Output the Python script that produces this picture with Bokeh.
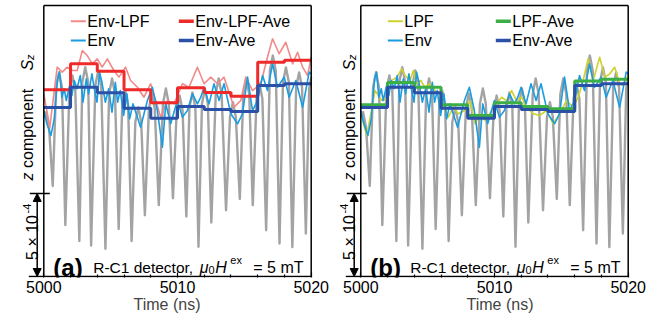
import math
from bokeh.plotting import figure
from bokeh.layouts import row
from bokeh.models import FixedTicker, Range1d, Arrow, NormalHead
from bokeh.core.properties import value
from bokeh.embed import file_html
from bokeh.resources import INLINE

FONT = "Liberation Sans"

# ---------------- data: time (ns) and S_z (units of 1e-4, relative to frame bottom) --------------
gray_t = [5000.00, 5000.17, 5000.39, 5000.67,
          5000.92, 5001.14, 5001.36, 5001.61,
          5001.915, 5002.135, 5002.355, 5002.66,
          5002.88, 5003.10, 5003.32, 5003.54,
          5003.855, 5004.075, 5004.295, 5004.61,
          5004.885, 5005.105, 5005.325, 5005.60,
          5005.865, 5006.085, 5006.305, 5006.57,
          5006.845, 5007.065, 5007.285, 5007.56,
          5007.86, 5008.08, 5008.30, 5008.60,
          5008.91, 5009.13, 5009.35, 5009.66,
          5009.94, 5010.16, 5010.38, 5010.66,
          5010.895, 5011.115, 5011.335, 5011.57,
          5011.83, 5012.05, 5012.27, 5012.53,
          5012.86, 5013.08, 5013.30, 5013.63,
          5013.925, 5014.145, 5014.365, 5014.66,
          5014.925, 5015.145, 5015.365, 5015.63,
          5015.91, 5016.13, 5016.35, 5016.63,
          5016.91, 5017.13, 5017.35, 5017.63,
          5017.89, 5018.11, 5018.33, 5018.59,
          5018.875, 5019.095, 5019.315, 5019.60,
          5019.85, 5020.00]
gray_v = [9.6, 9.9, 9.0, 5.45,
          11.4, 12.31, 11.4, 3.10,
          11.2, 12.11, 11.2, 2.14,
          11.7, 12.61, 11.7, 1.87,
          11.5, 12.41, 11.5, 1.67,
          11.0, 11.93, 11.0, 2.86,
          10.3, 11.20, 10.3, 2.14,
          9.3, 10.18, 9.3, 3.69,
          10.1, 11.02, 10.1, 4.30,
          10.4, 11.33, 10.4, 4.71,
          10.0, 10.90, 10.0, 3.61,
          10.2, 11.08, 10.2, 1.79,
          10.4, 11.33, 10.4, 3.25,
          11.0, 11.93, 11.0, 3.99,
          9.6, 10.50, 9.6, 4.67,
          11.0, 11.93, 11.0, 4.30,
          10.7, 11.63, 10.7, 2.79,
          12.4, 13.31, 12.4, 1.99,
          11.7, 12.59, 11.7, 1.77,
          11.4, 12.29, 11.4, 2.59,
          11.3, 12.0]

env_t = [5000.00, 5000.23, 5000.53, 5000.78, 5001.03, 5001.18, 5001.35, 5001.53, 5001.68, 5001.93,
         5002.10, 5002.28, 5002.48, 5002.73, 5002.93, 5003.18, 5003.35, 5003.60, 5003.78, 5003.98,
         5004.17, 5004.35, 5004.60, 5004.85, 5005.10, 5005.35, 5005.52, 5005.72, 5005.97, 5006.22,
         5006.42, 5006.67, 5007.24, 5007.75, 5008.12, 5008.49, 5008.87, 5009.12, 5009.49, 5009.99,
         5010.37, 5010.74, 5011.12, 5011.49, 5011.74, 5011.99, 5012.36, 5012.73, 5013.11, 5013.48,
         5013.99, 5014.49, 5014.86, 5015.24, 5015.61, 5015.99, 5016.36, 5016.73, 5017.11, 5017.48,
         5017.98, 5018.35, 5018.85, 5019.36, 5019.85, 5020.00]
env_v = [10.00, 9.20, 8.49, 9.50, 11.91, 12.31, 10.80, 11.31, 10.60, 11.51,
         10.90, 11.81, 11.31, 12.11, 10.50, 11.91, 11.00, 12.21, 11.31, 10.50,
         12.31, 11.70, 10.50, 11.31, 9.90, 11.70, 10.50, 11.20, 9.70, 11.00,
         9.50, 10.40, 8.99, 10.60, 11.40, 10.00, 7.79, 10.40, 9.20, 10.60,
         9.60, 10.00, 11.00, 10.40, 10.80, 11.40, 10.40, 11.61, 10.60, 11.61,
         9.80, 9.20, 9.80, 12.01, 10.00, 10.60, 12.11, 11.20, 12.81, 11.40,
         12.01, 10.80, 11.81, 10.20, 12.31, 12.20]

env_lpf_t = [5000.00, 5000.45, 5001.00, 5001.38, 5001.75, 5002.13, 5002.50, 5002.88, 5003.25, 5003.63,
             5004.00, 5004.37, 5004.75, 5005.24, 5005.62, 5006.12, 5006.49, 5007.00, 5007.49, 5007.99,
             5008.37, 5008.74, 5009.24, 5009.74, 5010.37, 5010.86, 5011.49, 5011.99, 5012.49, 5012.99,
             5013.48, 5014.23, 5014.73, 5015.11, 5015.61, 5016.23, 5016.73, 5017.11, 5017.60, 5018.10,
             5018.61, 5018.98, 5019.36, 5019.73, 5020.00]
env_lpf_v = [11.00, 8.99, 12.61, 12.31, 12.61, 12.41, 12.41, 13.61, 13.31, 12.81,
             13.11, 12.61, 13.11, 12.41, 12.01, 12.61, 11.81, 11.40, 10.80, 11.61,
             10.60, 9.60, 10.60, 10.40, 11.61, 11.40, 12.61, 11.61, 12.01, 11.61,
             12.01, 10.20, 10.60, 12.01, 11.20, 11.61, 13.21, 14.32, 13.42, 14.11,
             12.81, 13.51, 12.61, 12.11, 13.21]

lpf_t = [5000.00, 5000.45, 5001.07, 5001.57, 5001.94, 5002.32, 5002.69, 5003.06, 5003.31, 5003.68,
         5003.93, 5004.18, 5004.48, 5004.80, 5005.18, 5005.55, 5005.92, 5006.17, 5006.55, 5006.92,
         5007.29, 5007.79, 5008.17, 5008.54, 5008.91, 5009.29, 5009.66, 5010.16, 5010.53, 5010.90,
         5011.28, 5011.65, 5012.02, 5012.40, 5012.90, 5013.39, 5013.89, 5014.39, 5014.89, 5015.38,
         5015.88, 5016.26, 5016.63, 5017.00, 5017.38, 5017.87, 5018.25, 5018.62, 5018.99, 5019.37,
         5019.62, 5020.00]
lpf_v = [9.80, 8.49, 11.20, 10.60, 10.70, 11.81, 12.01, 12.51, 12.11, 11.81,
         12.41, 11.61, 11.81, 11.40, 11.61, 11.20, 11.00, 10.20, 9.60, 10.20,
         9.80, 10.00, 10.60, 9.20, 9.80, 9.40, 9.80, 10.40, 10.80, 10.60,
         11.20, 10.60, 10.80, 10.20, 9.80, 9.70, 10.00, 9.20, 9.80, 10.60,
         10.20, 10.80, 11.81, 13.11, 11.81, 13.21, 12.01, 12.21, 12.61, 11.61,
         11.51, 12.11]

ave_t = [5000, 5002, 5004, 5006, 5008, 5010, 5012, 5014, 5016, 5018, 5020]
env_lpf_ave = [11.25, 12.81, 12.37, 11.25, 10.46, 11.37, 11.08, 10.86, 12.91, 13.03]
env_ave = [10.18, 11.40, 11.07, 10.14, 9.54, 10.24, 10.06, 9.94, 11.51, 11.61]
lpf_ave = [10.34, 11.69, 11.40, 10.34, 9.70, 10.46, 10.24, 10.10, 11.77, 11.89]

x_major = [5000, 5010, 5020]
x_minor = [5002, 5004, 5006, 5008, 5012, 5014, 5016, 5018]
scale_bar = 5.0  # 5 x 10^-4

# ---------------- styles ----------------
C_GRAY = "#a3a3a3"
C_ENV = "#1b9ce0"
C_ENVLPF = "#f28a8a"
C_ENVLPFAVE = "#ee2a2a"
C_ENVAVE = "#2a50a8"
C_LPF = "#cfd22c"
C_LPFAVE = "#3bae45"

W, H = 333, 322
PPN = 13.37        # px per ns
PPU = 16.6         # px per 1e-4
FRAME_BOTTOM = 277 # px from top of the figure
TOP_V = (FRAME_BOTTOM - 1 - 5) / PPU


def panel(frame_left, label, legend, curves, ylab_dx):
    x0 = 5000 - frame_left / PPN
    x1 = 5000 + (W - frame_left) / PPN
    p = figure(width=W, height=H, output_backend="svg", toolbar_location=None,
               x_range=Range1d(x0, x1), y_range=Range1d(-1 / PPU, (FRAME_BOTTOM - 1) / PPU),
               y_axis_location=None, min_border_left=0, min_border_right=0,
               min_border_top=0, min_border_bottom=H - FRAME_BOTTOM)
    p.outline_line_color = None
    p.xgrid.grid_line_color = None
    p.ygrid.grid_line_color = None
    ax = p.xaxis[0]
    ax.ticker = FixedTicker(ticks=x_major, minor_ticks=x_minor)
    ax.axis_line_color = None
    ax.major_tick_in = 5
    ax.major_tick_out = 0
    ax.minor_tick_in = 3
    ax.minor_tick_out = 0
    ax.major_tick_line_width = 1.2
    ax.minor_tick_line_width = 1.2
    ax.major_label_standoff = 3
    ax.major_label_text_font = FONT
    ax.major_label_text_font_size = "16px"
    ax.major_label_text_color = "black"
    ax.axis_label = "Time (ns)"
    ax.axis_label_text_font = FONT
    ax.axis_label_text_font_size = "16px"
    ax.axis_label_text_font_style = "normal"
    ax.axis_label_standoff = 0

    px = lambda d: 5000 + d / PPN                # x offset (px from frame left) -> data
    py = lambda s: (FRAME_BOTTOM - 1 - s) / PPU  # screen y -> data

    # signals
    p.line(gray_t, gray_v, line_color=C_GRAY, line_width=2.4, line_join="round")
    for (xs, ys, col, lw, step) in curves:
        if step:
            p.step(xs, list(ys) + [ys[-1]], mode="after", line_color=col, line_width=lw)
        else:
            p.line(xs, ys, line_color=col, line_width=lw, line_join="round")

    # frame
    bl = px(-15)
    p.segment(x0=[5000, 5000, 5020, bl], y0=[0, TOP_V, TOP_V, 0],
              x1=[5000, 5020, 5020, 5020], y1=[TOP_V, TOP_V, 0, 0],
              line_color="black", line_width=1.5)
    # scale bar
    p.segment(x0=[px(-14)], y0=[scale_bar], x1=[px(6)], y1=[scale_bar], line_color="black", line_width=1.3)
    p.add_layout(Arrow(start=NormalHead(size=8, fill_color="black", line_color="black"),
                       end=NormalHead(size=8, fill_color="black", line_color="black"),
                       x_start=px(-6.6), y_start=0, x_end=px(-6.6), y_end=scale_bar,
                       line_color="black", line_width=1.5))

    # legend
    for (row_y, items) in zip([20.7, 40.0], legend):
        for (cx, (name, col, lw)) in zip([27, 135], items):
            y = py(row_y)
            p.segment(x0=[px(cx)], y0=[y], x1=[px(cx + 15)], y1=[y], line_color=col, line_width=lw)
            p.text(x=[px(cx + 16.5)], y=[y], text=[name], text_font=value(FONT),
                   text_font_size="16px", text_baseline="middle", text_align="left", text_color="black")

    # panel label
    yb = py(266.5)
    p.text(x=[px(9.5)], y=[yb], text=[label], text_font=value(FONT), text_font_size="24px",
           text_font_style="bold", text_baseline="alphabetic", text_color="black")
    parts = [(49.4, "R-C1 detector,", "normal", "15.5px", 0),
             (156.0, "\u03bc", "italic", "16px", 0),
             (164.8, "0", "normal", "11px", 2.5),
             (171.5, "H", "italic", "16px", 0),
             (186.5, "ex", "normal", "11px", -7),
             (209.5, "= 5 mT", "normal", "16px", 0)]
    for (dx, txt, st, fs, dy) in parts:
        p.text(x=[px(dx)], y=[py(266.5 + dy)], text=[txt], text_font=value(FONT), text_font_size=fs,
               text_font_style=st, text_baseline="alphabetic", text_color="black")

    # rotated y labels
    ang = math.pi / 2
    p.text(x=[px(-11)], y=[py(237)], text=["5 \u00d7 10"], angle=ang, text_font=value(FONT),
           text_font_size="16px", text_baseline="alphabetic", text_align="center", text_color="black")
    p.text(x=[px(-16.5)], y=[py(208)], text=["-4"], angle=ang, text_font=value(FONT),
           text_font_size="11px", text_baseline="alphabetic", text_align="center", text_color="black")
    p.text(x=[px(ylab_dx)], y=[py(180)], text=["z"], angle=ang, text_font=value(FONT),
           text_font_size="16px", text_font_style="italic", text_baseline="alphabetic",
           text_align="left", text_color="black")
    p.text(x=[px(ylab_dx)], y=[py(167.5)], text=["component"], angle=ang, text_font=value(FONT),
           text_font_size="16px", text_baseline="alphabetic", text_align="left", text_color="black")
    p.text(x=[px(ylab_dx)], y=[py(70)], text=["S"], angle=ang, text_font=value(FONT),
           text_font_size="16px", text_font_style="italic", text_baseline="alphabetic",
           text_align="left", text_color="black")
    p.text(x=[px(ylab_dx + 2.5)], y=[py(59.5)], text=["z"], angle=ang, text_font=value(FONT),
           text_font_size="11px", text_font_style="italic", text_baseline="alphabetic",
           text_align="left", text_color="black")
    return p


pa = panel(43.3, "(a)",
           [[("Env-LPF", C_ENVLPF, 2), ("Env-LPF-Ave", C_ENVLPFAVE, 3.5)],
            [("Env", C_ENV, 2), ("Env-Ave", C_ENVAVE, 3.5)]],
           [(env_lpf_t, env_lpf_v, C_ENVLPF, 1.6, False),
            (env_t, env_v, C_ENV, 1.6, False),
            (ave_t, env_lpf_ave, C_ENVLPFAVE, 3, True),
            (ave_t, env_ave, C_ENVAVE, 3, True)], -16)
pb = panel(27.3, "(b)",
           [[("LPF", C_LPF, 2), ("LPF-Ave", C_LPFAVE, 3.5)],
            [("Env", C_ENV, 2), ("Env-Ave", C_ENVAVE, 3.5)]],
           [(lpf_t, lpf_v, C_LPF, 1.6, False),
            (env_t, env_v, C_ENV, 1.6, False),
            (ave_t, lpf_ave, C_LPFAVE, 3, True),
            (ave_t, env_ave, C_ENVAVE, 3, True)], -11)

layout = row(pa, pb)
open("out.html", "w").write(file_html(layout, INLINE))
